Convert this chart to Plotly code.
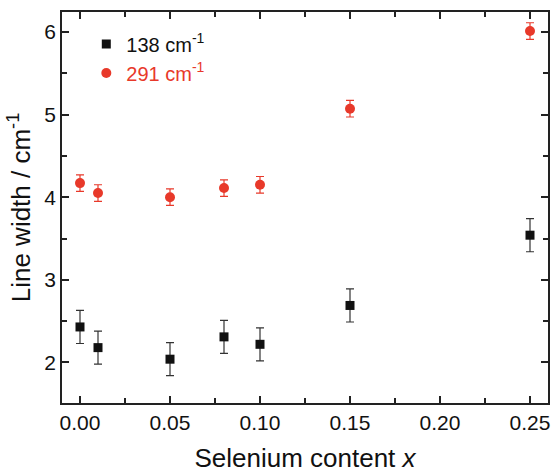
import plotly.graph_objects as go

# Selenium content x and measured Raman line widths (cm^-1)
selenium_x = [0.00, 0.01, 0.05, 0.08, 0.10, 0.15, 0.25]
width_138 = [2.43, 2.18, 2.04, 2.31, 2.22, 2.69, 3.54]
err_138 = [0.2, 0.2, 0.2, 0.2, 0.2, 0.2, 0.2]
width_291 = [4.17, 4.05, 4.00, 4.11, 4.15, 5.07, 6.01]
err_291 = [0.1, 0.1, 0.1, 0.1, 0.1, 0.1, 0.1]

x_ticks = [0.00, 0.05, 0.10, 0.15, 0.20, 0.25]
x_tick_labels = ["0.00", "0.05", "0.10", "0.15", "0.20", "0.25"]
y_ticks = [2, 3, 4, 5, 6]

BLACK = "#111111"
RED = "#e8392a"
FONT = "Liberation Sans, Arial, sans-serif"

fig = go.Figure()
fig.add_trace(go.Scatter(
    x=selenium_x, y=width_138, mode="markers",
    name="138 cm<sup>-1</sup>",
    marker=dict(symbol="square", size=9, color=BLACK),
    error_y=dict(type="data", array=err_138, color="#333333", thickness=1.2, width=4),
))
fig.add_trace(go.Scatter(
    x=selenium_x, y=width_291, mode="markers",
    name="<span style='color:%s'>291 cm<sup>-1</sup></span>" % RED,
    marker=dict(symbol="circle", size=10, color=RED),
    error_y=dict(type="data", array=err_291, color=RED, thickness=1.2, width=4),
))

axis_common = dict(
    showline=True, linecolor="#222222", linewidth=1.5, mirror="ticks",
    ticks="inside", ticklen=7, tickwidth=1.5, tickcolor="#222222",
    showgrid=False, zeroline=False,
    tickfont=dict(family=FONT, size=21, color="#111111"),
)

fig.update_xaxes(
    range=[-0.01, 0.26], tickvals=x_ticks, ticktext=x_tick_labels,
    minor=dict(ticks="inside", ticklen=5, tickwidth=1.5, tickcolor="#222222", dtick=0.025,
               showgrid=False),
    title=dict(text="Selenium content <i>x</i>", font=dict(family=FONT, size=26, color="#111111"),
               standoff=16),
    **axis_common,
)
fig.update_yaxes(
    range=[1.51, 6.24], tickvals=y_ticks,
    minor=dict(ticks="inside", ticklen=5, tickwidth=1.5, tickcolor="#222222", dtick=0.5,
               showgrid=False),
    title=dict(text="Line width / cm<sup>-1</sup>", font=dict(family=FONT, size=26, color="#111111"),
               standoff=6),
    **axis_common,
)

fig.update_layout(
    width=553, height=473,
    margin=dict(l=62, r=3, t=12, b=70),
    paper_bgcolor="white", plot_bgcolor="white",
    showlegend=True,
    legend=dict(x=0.05, y=0.968, xanchor="left", yanchor="top",
                bgcolor="rgba(0,0,0,0)", font=dict(family=FONT, size=20, color="#111111"),
                itemwidth=30, tracegroupgap=0),
)

fig.write_html("out.html")
